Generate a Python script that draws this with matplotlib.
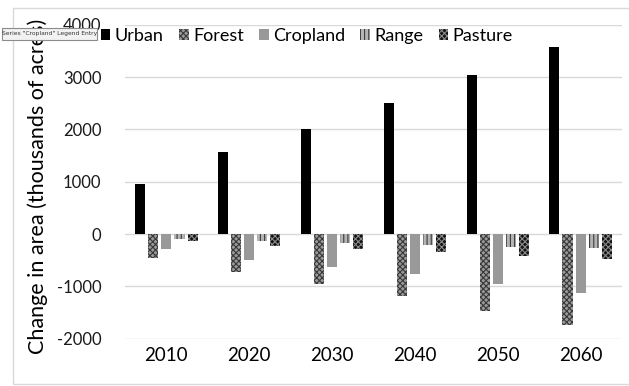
import matplotlib
matplotlib.use("Agg")
import matplotlib.pyplot as plt
import numpy as np
from matplotlib.patches import Rectangle, Patch

plt.rcParams['font.family'] = ['Lato', 'DejaVu Sans']
plt.rcParams['hatch.linewidth'] = 0.8

years = ["2010", "2020", "2030", "2040", "2050", "2060"]
urban = [950, 1560, 2010, 2500, 3030, 3580]
forest = [-450, -728, -952, -1181, -1462, -1730]
cropland = [-293, -498, -626, -773, -964, -1124]
rangeland = [-90, -134, -179, -211, -249, -274]
pasture = [-128, -224, -287, -345, -421, -479]

series_names = ["Urban", "Forest", "Cropland", "Range", "Pasture"]
series_vals = [urban, forest, cropland, rangeland, pasture]
styles = [
    dict(facecolor="#000000", edgecolor="#000000", hatch=None),
    dict(facecolor="#9a9a9a", edgecolor="#383838", hatch="xxxxxx"),
    dict(facecolor="#999999", edgecolor="#999999", hatch=None),
    dict(facecolor="#b4b4b4", edgecolor="#3c3c3c", hatch="||||"),
    dict(facecolor="#141414", edgecolor="#8a8a8a", hatch="xxxxxx"),
]

fig = plt.figure(figsize=(6.29, 3.86), dpi=100)
ax = fig.add_axes([125/629, 1-338.7/386, 497/629, (338.7-24.7)/386])

x = np.arange(len(years))
step = 0.158
width = 0.122
for i, (name, vals, st) in enumerate(zip(series_names, series_vals, styles)):
    ax.bar(x + (i-2)*step, vals, width=width, facecolor=st["facecolor"],
           edgecolor=st["edgecolor"], hatch=st["hatch"], linewidth=0, label=name, zorder=3)

ax.set_xlim(-0.5, len(years)-0.5)
ax.set_ylim(-2000, 4000)
ax.set_yticks(range(-2000, 4001, 1000))
ax.set_yticklabels([str(v) for v in range(-2000, 4001, 1000)], fontsize=12, color="#1a1a1a")
ax.set_xticks(x)
ax.set_xticklabels(years, fontsize=13.5, color="#000000")
ax.tick_params(axis='both', length=0)
ax.tick_params(axis='y', pad=17)
ax.tick_params(axis='x', pad=6)
ax.grid(axis='y', color="#d9d9d9", linewidth=1, zorder=0)
for s in ax.spines.values():
    s.set_visible(False)

handles = [Patch(facecolor=st["facecolor"], edgecolor=st["edgecolor"], hatch=st["hatch"], linewidth=0)
           for st in styles]
fig.legend(handles, series_names, loc="center left", bbox_to_anchor=(101/629, 1-36/386),
           ncol=5, frameon=False, fontsize=13, handlelength=0.52, handleheight=0.52,
           handletextpad=0.25, columnspacing=0.85, borderpad=0, borderaxespad=0,
           labelcolor="#000000")

ylab = fig.text(37.5/629, 1-186.5/386, "Change in area (thousands of acres)", rotation=90,
                ha="center", va="center", fontsize=13, color="#000000")
# fit the label length to the reference (~333 px)
renderer = fig.canvas.get_renderer()
h = ylab.get_window_extent(renderer).height
ylab.set_fontsize(13 * 333.0 / h)

# outer chart frame
fig.patches.append(Rectangle((13/629, 1-384/386), 1.0, (384-8)/386, transform=fig.transFigure,
                             fill=False, edgecolor="#d9d9d9", linewidth=1))

# tooltip
fig.patches.append(Rectangle((2/629, 1-40/386), 95/629, 12/386, transform=fig.transFigure,
                             facecolor="#f2f2f2", edgecolor="#8c8c8c", linewidth=0.8, zorder=10))
fig.text(49.5/629, 1-34/386, 'Series "Cropland" Legend Entry', ha="center", va="center",
         fontsize=4.3, color="#333333", family=["DejaVu Sans"], zorder=11)

fig.savefig("out.png", dpi=100)
